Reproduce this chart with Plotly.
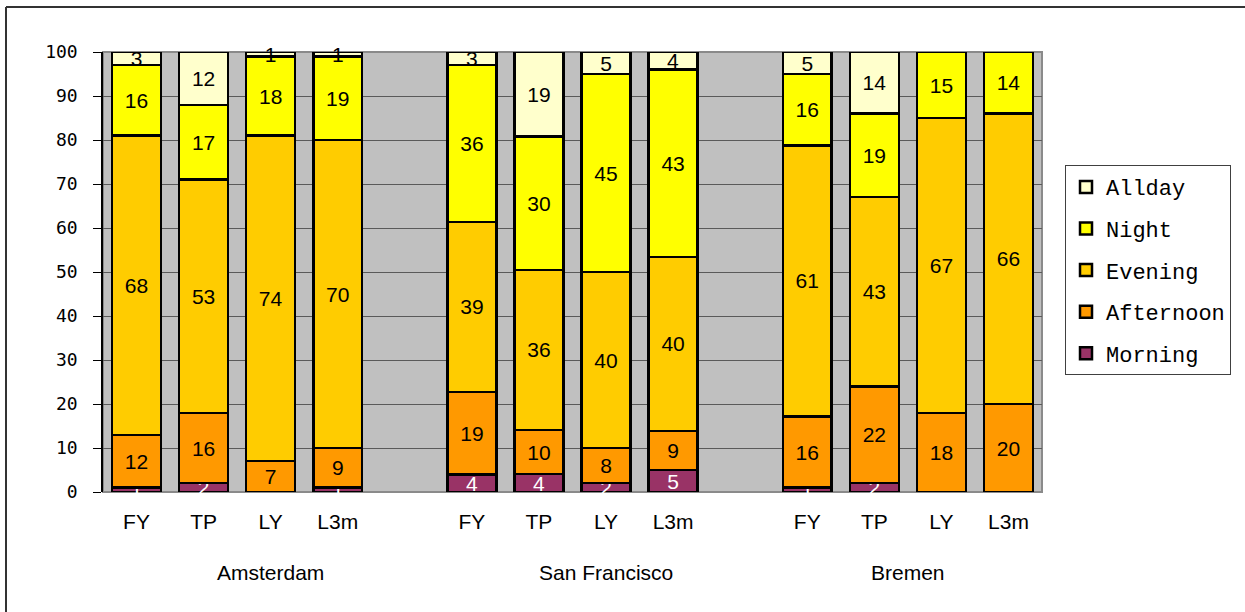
import plotly.graph_objects as go

# Visit share by time of day, per city and period
cities = ["Amsterdam", "San Francisco", "Bremen"]
periods = ["FY", "TP", "LY", "L3m"]

morning = [1, 2, 0, 1, 4, 4, 2, 5, 1, 2, 0, 0]
afternoon = [12, 16, 7, 9, 19, 10, 8, 9, 16, 22, 18, 20]
evening = [68, 53, 74, 70, 39, 36, 40, 40, 61, 43, 67, 66]
night = [16, 17, 18, 19, 36, 30, 45, 43, 16, 19, 15, 14]
allday = [3, 12, 1, 1, 3, 19, 5, 4, 5, 14, 0, 0]

series = [
    ("Morning", morning, "#993366", "white"),
    ("Afternoon", afternoon, "#FF9900", "black"),
    ("Evening", evening, "#FFCC00", "black"),
    ("Night", night, "#FFFF00", "black"),
    ("Allday", allday, "#FFFFCC", "black"),
]

# Category slots: four periods per city, with an empty slot between cities
x_keys, x_ticks, slot_of = [], [], []
for ci, city in enumerate(cities):
    if ci > 0:
        x_keys.append("gap%d" % ci)
        x_ticks.append("")
        slot_of.append(None)
    for pi, p in enumerate(periods):
        x_keys.append(city + "|" + p)
        x_ticks.append(p)
        slot_of.append(ci * len(periods) + pi)


def spread(values):
    return [None if s is None else values[s] for s in slot_of]


def labels(values):
    return ["" if s is None or values[s] == 0 else str(values[s]) for s in slot_of]


label_font = "Liberation Sans Narrow, Liberation Sans, sans-serif"

fig = go.Figure()
for i, (name, vals, color, txtcol) in enumerate(series):
    fig.add_trace(go.Bar(
        name=name,
        x=x_keys,
        y=spread(vals),
        text=labels(vals),
        textposition="inside",
        insidetextanchor="middle",
        textangle=0,
        textfont=dict(family=label_font, size=21, color=txtcol),
        marker=dict(color=color, line=dict(color="black", width=2.5)),
        cliponaxis=False,
        legendgroup=name,
        legendrank=len(series) - i,   # top of the stack listed first
        hoverinfo="skip",
    ))

# City names under each group of bars
group_centres = [2.0, 7.0, 11.5]
annotations = [
    dict(x=xc, y=-0.184, xref="x", yref="paper", text=c, showarrow=False,
         font=dict(family=label_font, size=21, color="black"),
         xanchor="center", yanchor="middle")
    for xc, c in zip(group_centres, cities)
]

fig.update_layout(
    width=1245, height=612,
    margin=dict(l=103, r=203, t=52, b=120),
    barmode="stack",
    barnorm="percent",
    bargap=0.27,
    paper_bgcolor="white",
    plot_bgcolor="#C0C0C0",
    uniformtext=dict(minsize=21, mode="show"),
    annotations=annotations,
    legend=dict(
        traceorder="grouped",
        x=1.0245, y=0.743, xanchor="left", yanchor="top",
        bgcolor="white", bordercolor="#404040", borderwidth=1,
        font=dict(family="Liberation Mono, monospace", size=22, color="black"),
        tracegroupgap=10,
        itemwidth=30,
    ),
    xaxis=dict(
        type="category",
        categoryorder="array", categoryarray=x_keys,
        tickvals=x_keys, ticktext=x_ticks,
        showgrid=False, ticks="", showline=False,
        tickfont=dict(family=label_font, size=21, color="black"),
        ticklabelstandoff=15,
    ),
    yaxis=dict(
        range=[0, 100.0001], tickvals=[0, 10, 20, 30, 40, 50, 60, 70, 80, 90, 100],
        showgrid=True, gridcolor="#5a5a5a", gridwidth=1,
        showline=True, linecolor="black", linewidth=1.5,
        ticks="outside", ticklen=8, tickcolor="black",
        tickfont=dict(family="DejaVu Sans Mono, monospace", size=18, color="black"),
        ticklabelstandoff=12,
        zeroline=False,
    ),
    shapes=[
        # plot-area frame
        dict(type="rect", xref="paper", yref="paper", x0=0, x1=1, y0=0, y1=1,
             line=dict(color="#8a8a8a", width=2), layer="below"),
        # chart border, left and top edges
        dict(type="line", xref="paper", yref="paper", x0=-0.1033, x1=-0.1033, y0=-0.28, y1=1.1023,
             line=dict(color="#333333", width=2)),
        dict(type="line", xref="paper", yref="paper", x0=-0.1033, x1=1.22, y0=1.1023, y1=1.1023,
             line=dict(color="#333333", width=2)),
    ],
    showlegend=True,
)

fig.write_html("out.html")
